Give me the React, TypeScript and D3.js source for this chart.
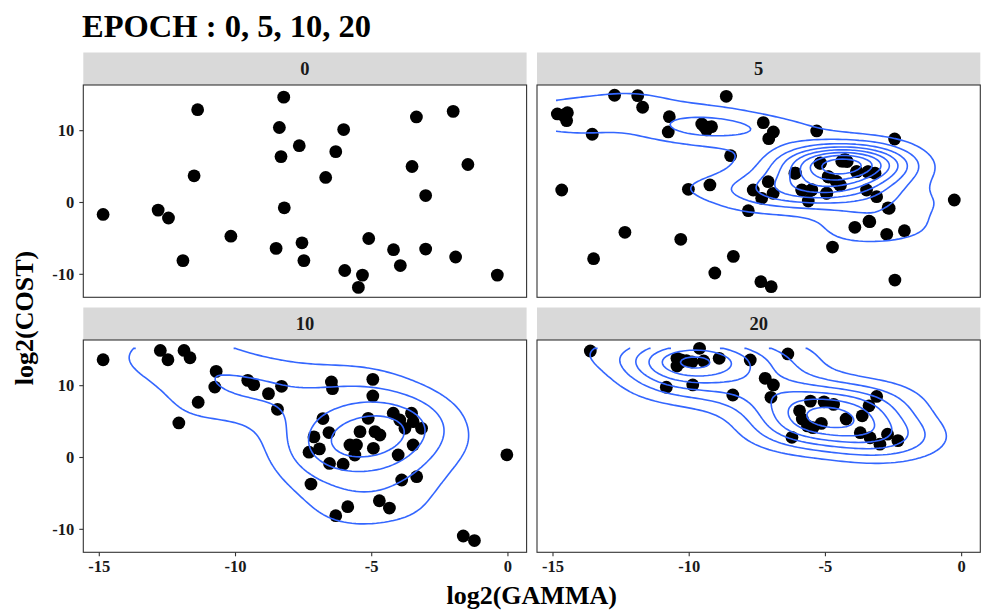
import React from "react";
import * as d3 from "d3";

// ---------- data ----------
const panelLabels = ["0", "5", "10", "20"];
const densityPanels = [false, true, true, true]; // density contours are drawn for epochs 5, 10, 20
const xTicks = [-15, -10, -5, 0];
const yTicks = [-10, 0, 10];
const xDomain = [-15.587, 0.685];
const yDomain = [-13.2, 16.36];

const epoch0: [number, number][] = [
  [-14.86, -1.66], [-11.39, 12.92], [-11.52, 3.72], [-12.84, -1.06], [-12.46, -2.16],
  [-11.93, -8.09], [-10.17, -4.69], [-8.23, 14.67], [-8.39, 10.44], [-8.33, 6.39],
  [-7.66, 7.91], [-8.21, -0.74], [-8.51, -6.39], [-7.56, -5.61], [-7.49, -8.09],
  [-6.69, 3.49], [-6.32, 7.08], [-6.03, 10.16], [-5.99, -9.47], [-5.34, -10.11],
  [-5.49, -11.82], [-5.11, -5.01], [-4.2, -6.57], [-3.95, -8.78], [-3.36, 11.91],
  [-3.52, 5.01], [-3.02, 0.97], [-3.02, -6.48], [-2.01, 12.69], [-1.47, 5.29],
  [-1.92, -7.59], [-0.39, -10.11],
];

const epoch5: [number, number][] = [
  [-14.84, 12.33], [-14.47, 12.51], [-14.5, 11.4], [-14.62, 12.1], [-14.6, 12.2],
  [-13.56, 9.5], [-12.74, 14.93],
  [-11.89, 14.88], [-11.71, 13.26], [-8.64, 14.79], [-10.73, 11.95], [-10.77, 9.82],
  [-9.54, 10.93], [-9.18, 10.56], [-9.36, 10.1], [-9.45, 10.6], [-9.3, 10.5],
  [-7.28, 11.12], [-6.91, 9.82],
  [-7.08, 8.89], [-5.32, 9.96], [-2.46, 8.84], [-8.48, 6.52], [-14.68, 1.74],
  [-10.03, 1.84], [-9.24, 2.44], [-7.83, -1.14], [-0.27, 0.35], [-12.36, -4.15],
  [-10.31, -5.13], [-13.51, -7.82], [-8.38, -7.5], [-9.06, -9.82], [-7.37, -11.03],
  [-6.99, -11.72], [-4.74, -6.2], [-2.45, -10.8],
  [-6.12, 4.07], [-7.1, 2.9], [-7.65, 1.74], [-7.34, 0.58], [-6.92, 1.28],
  [-5.87, 1.74], [-5.51, 1.74], [-5.63, 0.21], [-4.96, 1.28], [-5.2, 5.46],
  [-4.9, 3.6], [-4.59, 2.9], [-4.47, 2.44],
  [-5.85, 1.7], [-5.5, 1.78], [-4.95, 1.3], [-5.18, 5.5], [-4.88, 3.55],
  [-4.6, 2.95], [-4.45, 2.4], [-3.85, 4.3], [-3.45, 4.25], [-6.1, 4.1],
  [-4.35, 5.82], [-4.25, 5.9], [-4.4, 5.75], [-4.3, 5.95], [-4.2, 5.7],
  [-4.32, 5.85], [-4.28, 5.8], [-4.3, 5.88], [-4.34, 5.78], [-4.26, 5.92],
  [-4.31, 5.84], [-4.29, 5.83], [-4.33, 5.86], [-4.27, 5.81], [-4.3, 5.84],
  [-4.32, 5.83], [-4.28, 5.86],
  [-3.86, 4.29], [-3.43, 4.29], [-3.18, 4.07], [-3.49, 1.74], [-3.12, 0.81],
  [-2.66, -0.81], [-2.7, -0.75], [-3.92, -3.45], [-3.37, -2.67], [-3.4, -2.6],
  [-2.75, -4.43], [-2.1, -3.93],
];

const epoch10: [number, number][] = [
  [-14.86, 13.61], [-12.76, 14.91], [-12.48, 13.61], [-11.89, 14.91], [-11.67, 13.89],
  [-10.71, 11.99], [-10.76, 9.81], [-11.37, 7.69], [-12.08, 4.81], [-9.55, 10.74],
  [-9.33, 10.14], [-8.79, 8.89], [-8.31, 9.91], [-8.46, 6.71], [-6.48, 10.51],
  [-6.44, 9.58], [-4.96, 10.88], [-4.96, 8.56], [-6.79, 5.42], [-6.57, 3.47],
  [-7.12, 2.87], [-7.3, 0.74], [-6.92, 1.2], [-7.23, -3.7], [-6.55, -0.83],
  [-6.05, -0.93], [-6.32, -8.1], [-5.88, -6.85], [-4.72, -6.02], [-4.35, -7.04],
  [-1.64, -10.93], [-1.23, -11.57], [-0.04, 0.37],
  [-5.8, 1.74], [-5.56, 1.74], [-5.62, 0.35], [-5.13, 5.46], [-5.43, 3.6],
  [-4.88, 3.6], [-4.7, 3.13], [-4.94, 1.28], [-4.21, 6.16], [-3.97, 5.22],
  [-3.54, 6.16], [-3.48, 4.99], [-3.78, 4.06], [-3.17, 4.06], [-3.48, 1.74],
  [-4.03, 0.35], [-3.9, -3.13], [-3.35, -2.67],
];

const epoch20: [number, number][] = [
  [-13.63, 14.83], [-9.62, 15.2], [-10.45, 13.81], [-10.45, 12.74], [-9.47, 13.44],
  [-8.9, 13.81], [-7.76, 13.58], [-6.38, 14.42], [-10.84, 9.78], [-9.87, 10.1],
  [-8.4, 8.7], [-7.21, 11.03], [-6.91, 10.1], [-7.0, 8.38], [-6.23, 2.81],
  [-5.95, 6.5], [-5.85, 5.35], [-5.66, 4.4], [-5.55, 7.85], [-5.05, 7.75],
  [-4.7, 7.4], [-5.46, 4.15], [-5.15, 4.75], [-4.24, 5.36], [-3.65, 5.8],
  [-3.4, 7.2], [-3.12, 8.5], [-3.72, 3.45], [-3.36, 2.75], [-3.0, 1.85],
  [-2.72, 3.25], [-2.34, 2.35], [-10.3, 13.3],
  [-10.1, 13.5], [-9.9, 13.3], [-10.3, 13.6],
];

const panelData = [epoch0, epoch5, epoch10, epoch20];

// ---------- layout ----------
const W = 981;
const H = 613;
const colX = [83.3, 537];
const rowY = [85, 340];
const panelW = 443.3;
const panelH = 212.3;
const stripH = 32.5;
const FONT = "'Liberation Serif', 'Times New Roman', serif";
const BLUE = "#3366FF";
const N = 100;

// ---------- KDE (kde2d-like) ----------
function bwSD(v: number[]) {
  const s = v.slice().sort(d3.ascending);
  const iqr = (d3.quantileSorted(s, 0.75) as number) - (d3.quantileSorted(s, 0.25) as number);
  const sd = d3.deviation(v) as number;
  return 1.06 * Math.min(sd, iqr / 1.34) * Math.pow(v.length, -0.2);
}
const gauss = (u: number) => Math.exp(-0.5 * u * u) / Math.sqrt(2 * Math.PI);

const allPts = panelData.flat();
const gxExt = d3.extent(allPts, (d) => d[0]) as [number, number];
const gyExt = d3.extent(allPts, (d) => d[1]) as [number, number];
const gx = d3.range(N).map((i) => gxExt[0] + (i * (gxExt[1] - gxExt[0])) / (N - 1));
const gy = d3.range(N).map((j) => gyExt[0] + (j * (gyExt[1] - gyExt[0])) / (N - 1));

function kde(pts: [number, number][]) {
  const hx = bwSD(pts.map((d) => d[0]));
  const hy = bwSD(pts.map((d) => d[1]));
  const n = pts.length;
  const z = new Array(N * N).fill(0);
  const ax = gx.map((x) => pts.map((p) => gauss((x - p[0]) / hx)));
  const ay = gy.map((y) => pts.map((p) => gauss((y - p[1]) / hy)));
  for (let j = 0; j < N; j++)
    for (let i = 0; i < N; i++) {
      let s = 0;
      for (let k = 0; k < n; k++) s += ax[i][k] * ay[j][k];
      z[j * N + i] = s / (n * hx * hy);
    }
  return z;
}

const densities = panelData.map((p, i) => (densityPanels[i] ? kde(p) : null));
const activeDens = densities.filter((z) => z !== null) as number[][];
const zMin = d3.min(activeDens, (z) => d3.min(z)) as number;
const zMax = d3.max(activeDens, (z) => d3.max(z)) as number;
const breaks = d3.ticks(zMin, zMax, 10).filter((b) => b > zMin);

function isoLines(z: number[] | null) {
  if (!z) return [];
  const cs = d3.contours().size([N, N]).thresholds(breaks)(z);
  const lines: [number, number][][] = [];
  const onB = (a: number[], b: number[]) =>
    (a[0] === b[0] && (a[0] === 0 || a[0] === N)) || (a[1] === b[1] && (a[1] === 0 || a[1] === N));
  cs.forEach((c) => {
    c.coordinates.forEach((poly) => {
      poly.forEach((ring) => {
        const r = ring as number[][];
        const m = r.length - 1;
        let start = -1;
        for (let k = 0; k < m; k++) if (onB(r[k], r[k + 1])) { start = k; break; }
        if (start < 0) {
          lines.push(r.map((p) => [p[0], p[1]] as [number, number]));
          return;
        }
        let cur: [number, number][] = [];
        for (let t = 1; t <= m; t++) {
          const a = r[(start + t) % m];
          const b = r[(start + t + 1) % m];
          if (cur.length === 0) cur.push([a[0], a[1]]);
          if (onB(a, b)) {
            if (cur.length > 1) lines.push(cur);
            cur = [];
          } else cur.push([b[0], b[1]]);
        }
        if (cur.length > 1) lines.push(cur);
      });
    });
  });
  return lines;
}

const gridToX = (c: number) => {
  const t = Math.max(0, Math.min(N - 1, c - 0.5));
  return gxExt[0] + (t * (gxExt[1] - gxExt[0])) / (N - 1);
};
const gridToY = (c: number) => {
  const t = Math.max(0, Math.min(N - 1, c - 0.5));
  return gyExt[0] + (t * (gyExt[1] - gyExt[0])) / (N - 1);
};

const panelLines = densities.map(isoLines);

function Panel({ idx }: { idx: number }) {
  const col = idx % 2;
  const row = Math.floor(idx / 2);
  const left = colX[col];
  const top = rowY[row];
  const x = d3.scaleLinear().domain(xDomain).range([left, left + panelW]);
  const y = d3.scaleLinear().domain(yDomain).range([top + panelH, top]);
  const line = d3
    .line<[number, number]>()
    .x((p) => x(gridToX(p[0])))
    .y((p) => y(gridToY(p[1])));
  return (
    <g>
      <rect x={left} y={top - stripH} width={panelW} height={stripH} fill="#D9D9D9" />
      <text
        x={left + panelW / 2}
        y={top - stripH / 2}
        dy="0.36em"
        textAnchor="middle"
        fontSize={18.5}
        fontWeight="bold"
        fill="#1A1A1A"
      >
        {panelLabels[idx]}
      </text>
      <rect x={left} y={top} width={panelW} height={panelH} fill="white" />
      <g>
        {panelData[idx].map((d, i) => (
          <circle key={i} cx={x(d[0])} cy={y(d[1])} r={6.4} fill="black" />
        ))}
      </g>
      <g fill="none" stroke={BLUE} strokeWidth={1.6}>
        {panelLines[idx].map((l, i) => (
          <path key={i} d={line(l) || ""} />
        ))}
      </g>
      <rect x={left} y={top} width={panelW} height={panelH} fill="none" stroke="#333333" strokeWidth={1.1} />
      {col === 0 &&
        yTicks.map((t) => (
          <g key={t}>
            <line x1={left - 4} x2={left} y1={y(t)} y2={y(t)} stroke="#333333" strokeWidth={1.1} />
            <text x={left - 9} y={y(t)} dy="0.35em" textAnchor="end" fontSize={16.5} fontWeight="bold" fill="#1A1A1A">
              {t}
            </text>
          </g>
        ))}
      {row === 1 &&
        xTicks.map((t) => (
          <g key={t}>
            <line x1={x(t)} x2={x(t)} y1={top + panelH} y2={top + panelH + 4} stroke="#333333" strokeWidth={1.1} />
            <text x={x(t)} y={top + panelH + 20} textAnchor="middle" fontSize={16.5} fontWeight="bold" fill="#1A1A1A">
              {t}
            </text>
          </g>
        ))}
    </g>
  );
}

export default function App() {
  return (
    <svg
      width={W}
      height={H}
      viewBox={`0 0 ${W} ${H}`}
      style={{ position: "absolute", left: 0, top: 0, background: "white" }}
      fontFamily={FONT}
    >
      <rect width={W} height={H} fill="white" />
      <text x={82} y={37} fontSize={32.5} fontWeight="bold" fill="black">
        EPOCH : 0, 5, 10, 20
      </text>
      {[0, 1, 2, 3].map((i) => (
        <Panel key={i} idx={i} />
      ))}
      <text x={531.7} y={604} textAnchor="middle" fontSize={26} fontWeight="bold" fill="black">
        log2(GAMMA)
      </text>
      <text
        transform="translate(33,318) rotate(-90)"
        textAnchor="middle"
        fontSize={26}
        fontWeight="bold"
        fill="black"
      >
        log2(COST)
      </text>
    </svg>
  );
}
